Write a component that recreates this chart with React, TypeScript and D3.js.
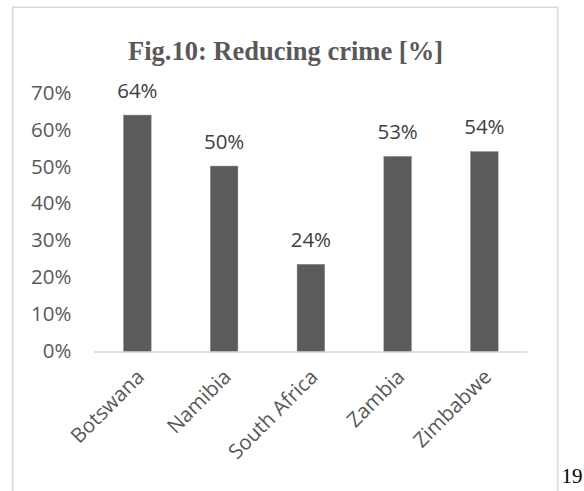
import React from "react";
import * as d3 from "d3";

const categories = ["Botswana", "Namibia", "South Africa", "Zambia", "Zimbabwe"];
const values = [0.641, 0.503, 0.237, 0.529, 0.542];
const valueLabels = ["64%", "50%", "24%", "53%", "54%"];
const yTicks = [0, 0.1, 0.2, 0.3, 0.4, 0.5, 0.6, 0.7];
const title = "Fig.10: Reducing crime [%]";
const pageNumber = "19";

const W = 584;
const H = 491;
const LABEL_FONT = "'Open Sans', 'Liberation Sans', sans-serif";
const LABEL_SIZE = 20.5;

export default function App() {
  const x = d3
    .scaleBand<string>()
    .domain(categories)
    .range([94, 527.75])
    .paddingInner(0.683)
    .paddingOuter(0.3415);
  const y = d3.scaleLinear().domain([0, 0.7]).range([352, 93.3]);
  const fmt = d3.format(".0%");

  return (
    <svg
      width={W}
      height={H}
      style={{ position: "absolute", left: 0, top: 0, background: "#fff" }}
    >
      <rect x={12.7} y={7.3} width={545} height={500} fill="#fff" stroke="#d9d9d9" strokeWidth={1.5} />
      <text
        x={285.5}
        y={60}
        textAnchor="middle"
        fontFamily="'Liberation Serif', 'Times New Roman', serif"
        fontWeight="bold"
        fontSize={26.5}
        fill="#595959"
      >
        {title}
      </text>
      {yTicks.map((t) => (
        <text
          key={t}
          x={71.5}
          y={y(t) + LABEL_SIZE * 0.357 - 1}
          textAnchor="end"
          fontFamily={LABEL_FONT}
          fontSize={LABEL_SIZE}
          fill="#595959"
        >
          {fmt(t)}
        </text>
      ))}
      {categories.map((c, i) => (
        <rect
          key={c}
          x={x(c)}
          y={y(values[i])}
          width={x.bandwidth()}
          height={y(0) - y(values[i])}
          fill="#5b5b5b"
          stroke="#7a7a7a"
          strokeWidth={0.5}
        />
      ))}
      <line x1={94} x2={527.75} y1={y(0)} y2={y(0)} stroke="#d9d9d9" strokeWidth={1.5} />
      {categories.map((c, i) => (
        <text
          key={c + "l"}
          x={(x(c) as number) + x.bandwidth() / 2}
          y={y(values[i]) - 17.5}
          textAnchor="middle"
          fontFamily={LABEL_FONT}
          fontSize={LABEL_SIZE}
          fill="#404040"
        >
          {valueLabels[i]}
        </text>
      ))}
      {categories.map((c) => (
        <text
          key={c + "x"}
          transform={`translate(${(x(c) as number) + x.bandwidth() / 2 - 2},${y(0) + 16}) rotate(-45)`}
          textAnchor="end"
          dy="0.7em"
          fontFamily={LABEL_FONT}
          fontSize={LABEL_SIZE}
          fill="#595959"
        >
          {c}
        </text>
      ))}
      <text
        x={561.5}
        y={483}
        fontFamily="'Liberation Serif', 'Times New Roman', serif"
        fontSize={21}
        fill="#000"
      >
        {pageNumber}
      </text>
    </svg>
  );
}
